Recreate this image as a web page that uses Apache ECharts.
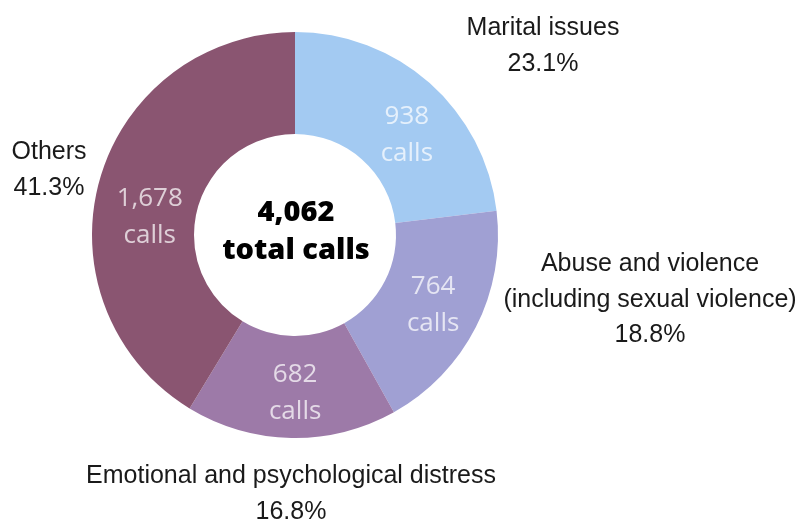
<!DOCTYPE html>
<html>
<head>
<meta charset="utf-8">
<script src="https://cdn.jsdelivr.net/npm/echarts@6/dist/echarts.min.js"></script>
<style>
  html, body { margin: 0; padding: 0; background: #fff; }
  #chart { width: 801px; height: 521px; }
</style>
</head>
<body>
<div id="chart"></div>
<script>
// Helpline calls by reason
const categories = [
  'Marital issues',
  'Abuse and violence\n(including sexual violence)',
  'Emotional and psychological distress',
  'Others'
];
const callCounts = [938, 764, 682, 1678];
const sliceColors = ['#a3caf2', '#a0a0d3', '#9d7aa8', '#8a5571'];

const totalCalls = callCounts.reduce((a, b) => a + b, 0);

// small nudges of the in-ring count labels
const countLabelOffsets = [[9, 16], [0, 0], [3, 3], [4, 24]];
// anchor points for the category captions around the ring
const captionPos = [[543, 46], [650, 300], [291, 494], [49, 170]];

const pieData = categories.map((name, i) => ({
  name: name,
  value: callCounts[i],
  itemStyle: { color: sliceColors[i] },
  label: { offset: countLabelOffsets[i] }
}));

const center = [295, 235];
const radius = [101, 203];

const captionTexts = categories.map((name, i) => ({
  type: 'text',
  x: captionPos[i][0],
  y: captionPos[i][1],
  silent: true,
  style: {
    text: name + '\n' + (callCounts[i] / totalCalls * 100).toFixed(1) + '%',
    font: '25px "Liberation Sans"',
    lineHeight: 35.5,
    fill: '#1a1a1a',
    textAlign: 'center',
    textVerticalAlign: 'middle'
  }
}));

const chart = echarts.init(document.getElementById('chart'), null, { renderer: 'canvas' });

chart.setOption({
  backgroundColor: '#ffffff',
  animation: false,
  series: [
    {
      type: 'pie',
      center: center,
      radius: radius,
      startAngle: 90,
      clockwise: true,
      silent: true,
      data: pieData,
      itemStyle: { borderWidth: 0 },
      label: {
        show: true,
        position: 'inside',
        formatter: p => p.value.toLocaleString('en-US') + '\ncalls',
        fontFamily: 'Open Sans',
        fontSize: 26,
        lineHeight: 37,
        color: 'rgba(255,255,255,0.72)',
        align: 'center'
      },
      labelLine: { show: false }
    }
  ],
  graphic: captionTexts.concat([
    {
      type: 'text',
      x: 296,
      y: 213,
      silent: true,
      style: {
        text: totalCalls.toLocaleString('en-US'),
        font: '800 29px "Open Sans"',
        fill: '#000',
        textAlign: 'center',
        textVerticalAlign: 'middle'
      }
    },
    {
      type: 'text',
      x: 296,
      y: 251,
      silent: true,
      style: {
        text: 'total calls',
        font: '800 29px "Open Sans"',
        fill: '#000',
        textAlign: 'center',
        textVerticalAlign: 'middle'
      }
    }
  ])
});
</script>
</body>
</html>
